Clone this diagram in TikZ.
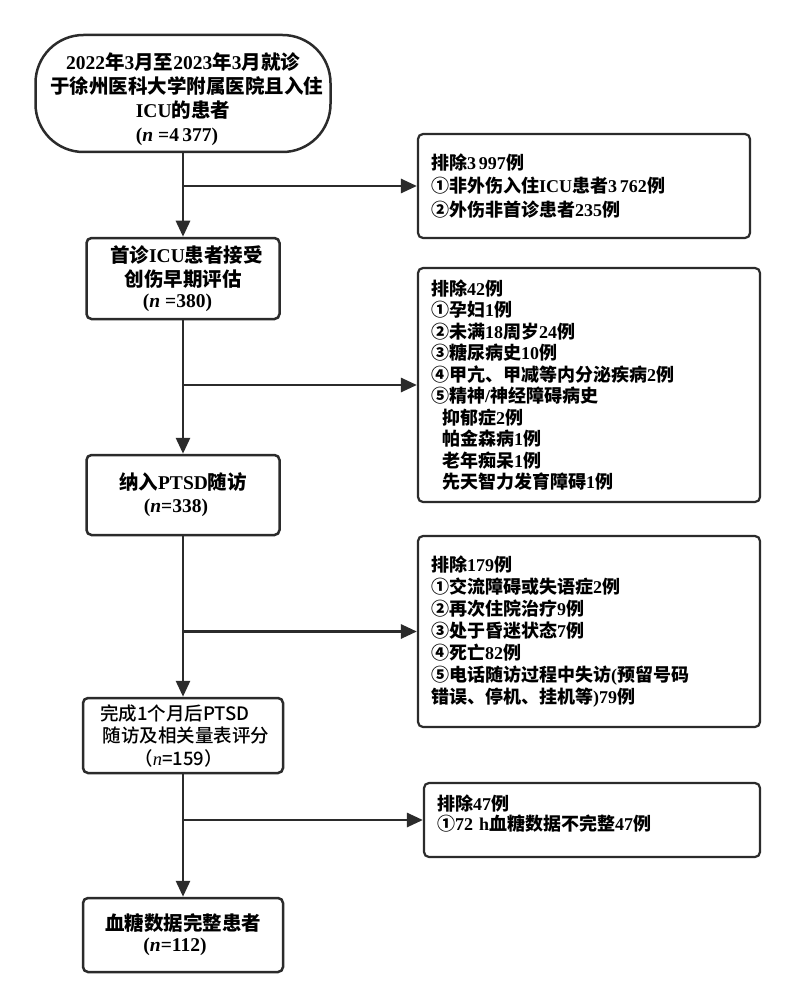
\documentclass[tikz,border=0pt]{standalone}
\usepackage{fontspec}
\setmainfont{Noto Sans CJK SC}
\newfontfamily\latfont{Liberation Serif}
\newfontfamily\cjkmid{Noto Sans CJK SC Medium}
\usetikzlibrary{arrows.meta}
\newcommand\rmx[1]{{\latfont #1}}
\newcommand\nn{{\latfont\textit{n}}}
\definecolor{ln}{HTML}{2B2B2B}
\tikzset{
  mbox/.style={draw=ln, line width=2.5pt, rounded corners=5pt, inner sep=0pt,
    align=center, font=\fontsize{19.5}{24}\selectfont\bfseries},
  rbox/.style={draw=ln, line width=2.2pt, rounded corners=5pt, inner xsep=13pt,
    inner ysep=0pt, align=left, font=\fontsize{18}{21.5}\selectfont\bfseries},
  arr/.style={draw=ln, line width=2.8pt, -{Triangle[length=16pt,width=14pt]}},
}
\begin{document}
\begin{tikzpicture}[x=1pt,y=-1pt]
\useasboundingbox (0,0) rectangle (795,1008);
% main column
\node[mbox, rounded corners=48pt, minimum width=295pt, minimum height=117pt] (b1) at (183,93.5)
  {\rule{0pt}{28pt}\rmx{2022}年\rmx{3}月至\rmx{2023}年\rmx{3}月就诊\\
   \hspace*{7pt}于徐州医科大学附属医院且入住\\
   \rmx{ICU}的患者\\
   \rmx{(\textit{n} =4\,377)}\hspace*{12pt}};
\node[mbox, minimum width=193pt, minimum height=81pt] (b2) at (183,278.5)
  {\hspace*{7pt}首诊\rmx{ICU}患者接受\\
   创伤早期评估\\[-3pt]
   \rmx{(\textit{n} =380)}\hspace*{11pt}};
\node[mbox, minimum width=193pt, minimum height=80pt] (b3) at (183,495)
  {纳入\rmx{PTSD}随访\\[-1pt]
   \rmx{(\textit{n}=338)}\hspace*{14pt}};
\node[mbox, minimum width=200pt, minimum height=75pt, font=\fontsize{18.5}{22.5}\selectfont\cjkmid] (b4) at (183,735.5)
  {完成1个月后PTSD\hspace*{16pt}\\
   \hspace*{6pt}随访及相关量表评分\\
   （\nn=159）\hspace*{9pt}};
\node[mbox, minimum width=200pt, minimum height=74pt] (b5) at (183,935)
  {血糖数据完整患者\\[-3pt]
   \rmx{(\textit{n}=112)}\hspace*{16pt}};
% exclusion boxes
\node[rbox, minimum width=332pt, minimum height=104pt, text width=306pt,
      font=\fontsize{18}{23.5}\selectfont\bfseries] (r1) at (584,186)
  {排除\rmx{3\,997}例\\
   ①非外伤入住\rmx{ICU}患者\rmx{3\,762}例\\
   ②外伤非首诊患者\rmx{235}例};
\node[rbox, minimum width=342pt, minimum height=234pt, text width=316pt] (r2) at (589,385)
  {排除\rmx{42}例\\
   ①孕妇\rmx{1}例\\
   ②未满\rmx{18}周岁\rmx{24}例\\
   ③糖尿病史\rmx{10}例\\
   ④甲亢、甲减等内分泌疾病\rmx{2}例\\
   ⑤精神\rmx{/}神经障碍病史\\
   \hspace*{11pt}抑郁症\rmx{2}例\\
   \hspace*{11pt}帕金森病\rmx{1}例\\
   \hspace*{11pt}老年痴呆\rmx{1}例\\
   \hspace*{11pt}先天智力发育障碍\rmx{1}例};
\node[rbox, minimum width=342pt, minimum height=191pt, text width=316pt,
      font=\fontsize{18}{22}\selectfont\bfseries] (r3) at (589,631.5)
  {排除\rmx{179}例\\
   ①交流障碍或失语症\rmx{2}例\\
   ②再次住院治疗\rmx{9}例\\
   ③处于昏迷状态\rmx{7}例\\
   ④死亡\rmx{82}例\\
   ⑤电话随访过程中失访\rmx{(}预留号码\\
   错误、停机、挂机等\rmx{)79}例};
\node[rbox, minimum width=336pt, minimum height=74pt, text width=310pt,
      font=\fontsize{18}{20}\selectfont\bfseries] (r4) at (592,820)
  {排除\rmx{47}例\\
   ①\rmx{72 h}血糖数据不完整\rmx{47}例\\[-6pt]\mbox{}};
% junctions
\coordinate (j1) at (183,186);
\coordinate (j2) at (183,385);
\coordinate (j3) at (183,631.5);
\coordinate (j4) at (183,820);
% connectors
\draw[arr] (b1) -- (b2);
\draw[arr] (b2) -- (b3);
\draw[arr] (b3) -- (b4);
\draw[arr] (b4) -- (b5);
\draw[arr] (j1) -- (r1.west);
\draw[arr] (j2) -- (r2.west);
\draw[arr] (j3) -- (r3.west);
\draw[arr] (j4) -- (r4.west);
\end{tikzpicture}
\end{document}
